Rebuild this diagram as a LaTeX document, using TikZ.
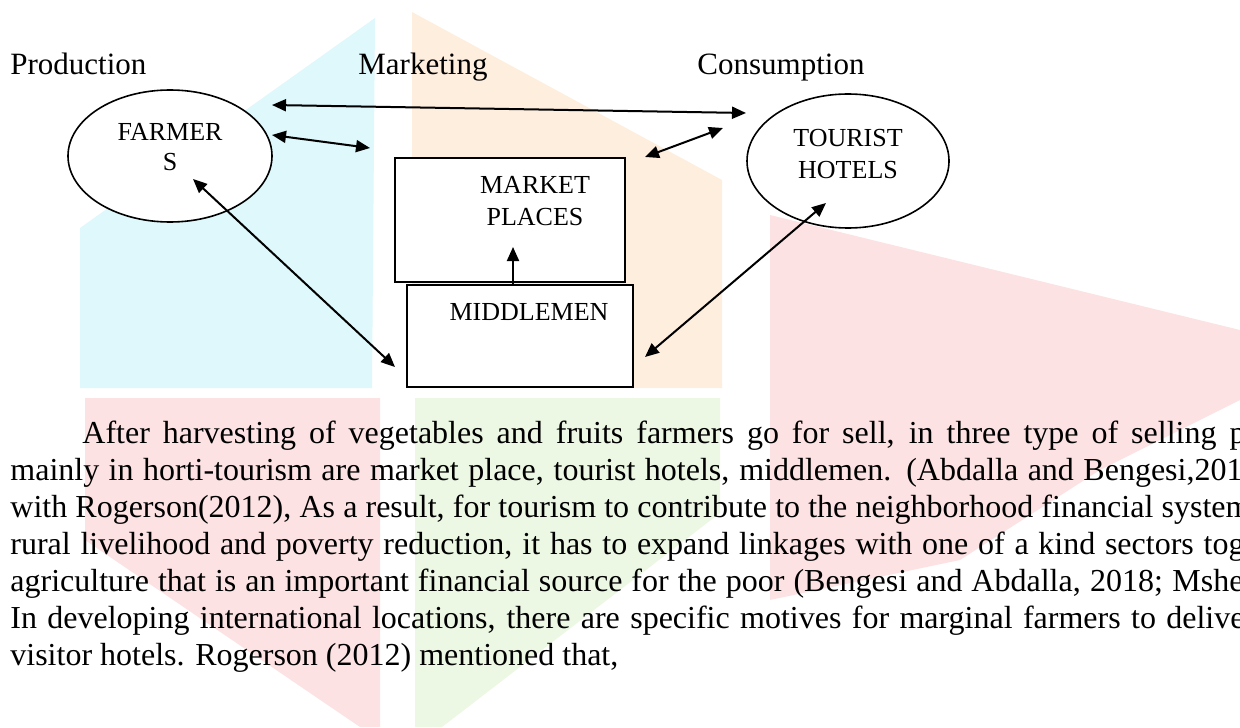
\documentclass[tikz,border=0pt]{standalone}
\usepackage{fontspec}
\setmainfont{Liberation Serif}
\usetikzlibrary{arrows.meta,shapes.geometric}
\definecolor{wmcyan}{RGB}{222,248,251}
\definecolor{wmorange}{RGB}{254,238,222}
\definecolor{wmred}{RGB}{252,226,226}
\definecolor{wmgreen}{RGB}{236,247,228}

\begin{document}
\begin{tikzpicture}[x=0.5pt,y=-0.5pt,
    hub/.style={draw,fill=white,line width=0.8pt,ellipse,inner sep=0pt},
    place/.style={draw,fill=white,line width=1pt,rectangle,inner sep=0pt},
    lbl/.style={font=\fontsize{13}{16}\selectfont,align=center,inner sep=0pt},
    stage/.style={font=\fontsize{15.5}{18}\selectfont,anchor=base west,inner sep=0pt},
    body/.style={font=\fontsize{16}{18}\selectfont,anchor=base west,inner sep=0pt},
    link/.style={line width=1pt,{Triangle[length=7pt,width=6pt]}-{Triangle[length=7pt,width=6pt]}}]
    %%%%% START %%%%%

    \useasboundingbox (0,0) rectangle (1240,727);
    \clip (0,0) rectangle (1240,727);

    % watermark
    \fill[wmcyan] (80,228) -- (375,18) -- (372,388) -- (80,388) -- cycle;
    \fill[wmorange] (412,12) -- (722,180) -- (722,388) -- (412,388) -- cycle;
    \fill[wmred] (770,215) -- (1240,330) -- (1240,400) -- (1100,470) -- (960,560) -- (770,600) -- cycle;
    \fill[wmred] (85,398) -- (380,398) -- (380,727) -- (360,727) -- (85,540) -- cycle;
    \fill[wmgreen] (415,398) -- (720,398) -- (720,513) -- (442,727) -- (415,727) -- cycle;

    % stages
    \node[stage] (production) at (10,75) {Production};
    \node[stage] (marketing) at (358,75) {Marketing};
    \node[stage] (consumption) at (697,75) {Consumption};

    % actors
    \node[hub,minimum width=102pt,minimum height=66pt] (farmers) at (170,156) {};
    \node[lbl] (farmerstxt) at ([yshift=4.5pt]farmers.center) {FARMER\\[-1pt]S};
    \node[hub,minimum width=101pt,minimum height=67pt] (hotels) at (848,161) {};
    \node[lbl] (hotelstxt) at ([yshift=3.5pt]hotels.center) {TOURIST\\HOTELS};
    \node[place,minimum width=115pt,minimum height=62pt] (market) at (510,220) {};
    \node[lbl] (markettxt) at ([xshift=12.5pt,yshift=9.5pt]market.center) {MARKET\\PLACES};
    \node[place,minimum width=113pt,minimum height=51pt] (middlemen) at (520,336) {};
    \node[lbl] (middlementxt) at ([xshift=4.5pt,yshift=12pt]middlemen.center) {MIDDLEMEN};

    % loose arrow ends
    \coordinate (fa1) at (272,105);
    \coordinate (th1) at (746,113);
    \coordinate (fa2) at (272,135);
    \coordinate (mk2) at (370,148);
    \coordinate (mk3) at (645,157);
    \coordinate (th3) at (723,128);
    \coordinate (fa4) at (193,179);
    \coordinate (md4) at (395,367);
    \coordinate (th5) at (826,203);
    \coordinate (md5) at (645,357);
    \coordinate (md6) at ([xshift=-3.5pt]middlemen.north);
    \coordinate (mk6) at (513,247);

    \draw[link] (fa1) -- (th1);
    \draw[link] (fa2) -- (mk2);
    \draw[link] (mk3) -- (th3);
    \draw[link] (fa4) -- (md4);
    \draw[link] (th5) -- (md5);
    \draw[line width=1pt,-{Triangle[length=7pt,width=6pt]}] (md6) -- (mk6);

    % paragraph
    \node[body] (line1) at (82,443) {\makebox[581.5pt][s]{After harvesting of vegetables and fruits farmers go for sell, in three type of selling p}};
    \node[body] (line2) at (10,480) {\makebox[616pt][s]{mainly in horti-tourism are market place, tourist hotels, middlemen. (Abdalla and Bengesi,201}};
    \node[body] (line3) at (10,517) {\makebox[620pt][s]{with Rogerson(2012), As a result, for tourism to contribute to the neighborhood financial system}};
    \node[body] (line4) at (10,554) {\makebox[617pt][s]{rural livelihood and poverty reduction, it has to expand linkages with one of a kind sectors tog}};
    \node[body] (line5) at (10,591) {\makebox[616.5pt][s]{agriculture that is an important financial source for the poor (Bengesi and Abdalla, 2018; Mshe}};
    \node[body] (line6) at (10,628) {\makebox[617pt][s]{In developing international locations, there are specific motives for marginal farmers to delive}};
    \node[body] (line7) at (10,665) {visitor hotels. Rogerson (2012) mentioned that,};

    %%%%% END %%%%%
\end{tikzpicture}
\end{document}
